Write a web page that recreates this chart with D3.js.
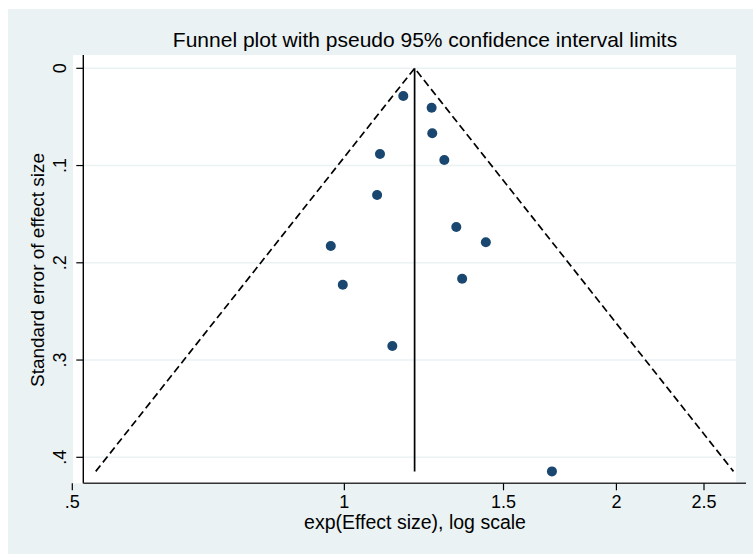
<!DOCTYPE html>
<html>
<head>
<meta charset="utf-8">
<script src="https://cdn.jsdelivr.net/npm/d3@7"></script>
<style>
  body { margin: 0; background: #fff; }
  text { font-family: "Liberation Sans", Arial, sans-serif; fill: #000; }
</style>
</head>
<body>
<svg id="chart" width="753" height="554"></svg>
<script>
// study estimates
const effectSize = [1.162, 1.249, 1.251, 1.095, 1.290, 1.087, 1.330, 0.966, 1.434, 0.996, 1.350, 1.130, 1.697];
const stdError   = [0.0285, 0.0405, 0.0668, 0.0881, 0.0943, 0.1303, 0.1632, 0.1827, 0.1789, 0.2225, 0.2164, 0.2856, 0.4145];
const pooledEffect = 1.196;

const xTicks = [0.5, 1, 1.5, 2, 2.5];
const xTickLabels = [".5", "1", "1.5", "2", "2.5"];
const yTicks = [0, 0.1, 0.2, 0.3, 0.4];
const yTickLabels = ["0", ".1", ".2", ".3", ".4"];

const svg = d3.select('#chart');

// layout
const plot = {left: 73, right: 736, top: 55, bottom: 483.3};
const axisLeftX = 83.3, axisRightX = 746;

const x = d3.scaleLog().domain([0.5, 2.5]).range([72.3, 704]);
const y = d3.scaleLinear().domain([0, 0.4]).range([68.3, 457.3]);

// graph region background
svg.append('rect')
    .attr('x', 8).attr('y', 9)
    .attr('width', 753 - 8).attr('height', 554 - 9)
    .attr('fill', '#eaf2f3');

svg.append('rect')
    .attr('x', plot.left).attr('y', plot.top)
    .attr('width', plot.right - plot.left).attr('height', plot.bottom - plot.top)
    .attr('fill', '#fff');

// grid lines
svg.append('g')
    .selectAll('line')
    .data(yTicks)
    .join('line')
    .attr('x1', axisLeftX).attr('x2', axisRightX)
    .attr('y1', d => y(d)).attr('y2', d => y(d))
    .attr('stroke', '#eaf2f3')
    .attr('stroke-width', 1.5);

// pseudo 95% limits
const seMax = d3.max(stdError);
const center = Math.log(pooledEffect);
const funnel = [
  [[Math.exp(center - 1.96 * seMax), seMax], [pooledEffect, 0], [Math.exp(center + 1.96 * seMax), seMax]]
];
const line = d3.line().x(d => x(d[0])).y(d => y(d[1]));

svg.append('path')
    .attr('d', line(funnel[0]))
    .attr('fill', 'none')
    .attr('stroke', '#000')
    .attr('stroke-width', 1.7)
    .attr('stroke-dasharray', '7.5,4');

svg.append('line')
    .attr('x1', x(pooledEffect)).attr('x2', x(pooledEffect))
    .attr('y1', y(0)).attr('y2', y(seMax))
    .attr('stroke', '#000')
    .attr('stroke-width', 1.7);

// studies
svg.append('g')
    .attr('fill', '#1a476f')
    .selectAll('circle')
    .data(effectSize)
    .join('circle')
    .attr('cx', d => x(d))
    .attr('cy', (d, i) => y(stdError[i]))
    .attr('r', 5);

// axes
svg.append('line')
    .attr('x1', axisLeftX).attr('x2', axisLeftX)
    .attr('y1', plot.top).attr('y2', plot.bottom)
    .attr('stroke', '#000').attr('stroke-width', 1.4);

svg.append('line')
    .attr('x1', axisLeftX).attr('x2', axisRightX)
    .attr('y1', plot.bottom).attr('y2', plot.bottom)
    .attr('stroke', '#333').attr('stroke-width', 1.6);

// y ticks
const yt = svg.append('g');
yt.selectAll('line')
    .data(yTicks)
    .join('line')
    .attr('x1', axisLeftX - 7).attr('x2', axisLeftX)
    .attr('y1', d => y(d)).attr('y2', d => y(d))
    .attr('stroke', '#000').attr('stroke-width', 1.2);
yt.selectAll('text')
    .data(yTicks)
    .join('text')
    .attr('transform', d => `translate(66,${y(d)}) rotate(-90)`)
    .attr('text-anchor', 'middle')
    .style('font-size', '18px')
    .text((d, i) => yTickLabels[i]);

// x ticks
const xt = svg.append('g');
xt.selectAll('line')
    .data(xTicks)
    .join('line')
    .attr('x1', d => x(d)).attr('x2', d => x(d))
    .attr('y1', plot.bottom).attr('y2', plot.bottom + 7)
    .attr('stroke', '#000').attr('stroke-width', 1.2);
xt.selectAll('text')
    .data(xTicks)
    .join('text')
    .attr('x', d => x(d))
    .attr('y', 508)
    .attr('text-anchor', 'middle')
    .style('font-size', '18px')
    .text((d, i) => xTickLabels[i]);

// titles
svg.append('text')
    .attr('x', 425).attr('y', 47)
    .attr('text-anchor', 'middle')
    .style('font-size', '21px')
    .text('Funnel plot with pseudo 95% confidence interval limits');

svg.append('text')
    .attr('x', 415).attr('y', 529)
    .attr('text-anchor', 'middle')
    .style('font-size', '19.5px')
    .text('exp(Effect size), log scale');

svg.append('text')
    .attr('transform', 'translate(44,270) rotate(-90)')
    .attr('text-anchor', 'middle')
    .style('font-size', '19px')
    .text('Standard error of effect size');
</script>
</body>
</html>
